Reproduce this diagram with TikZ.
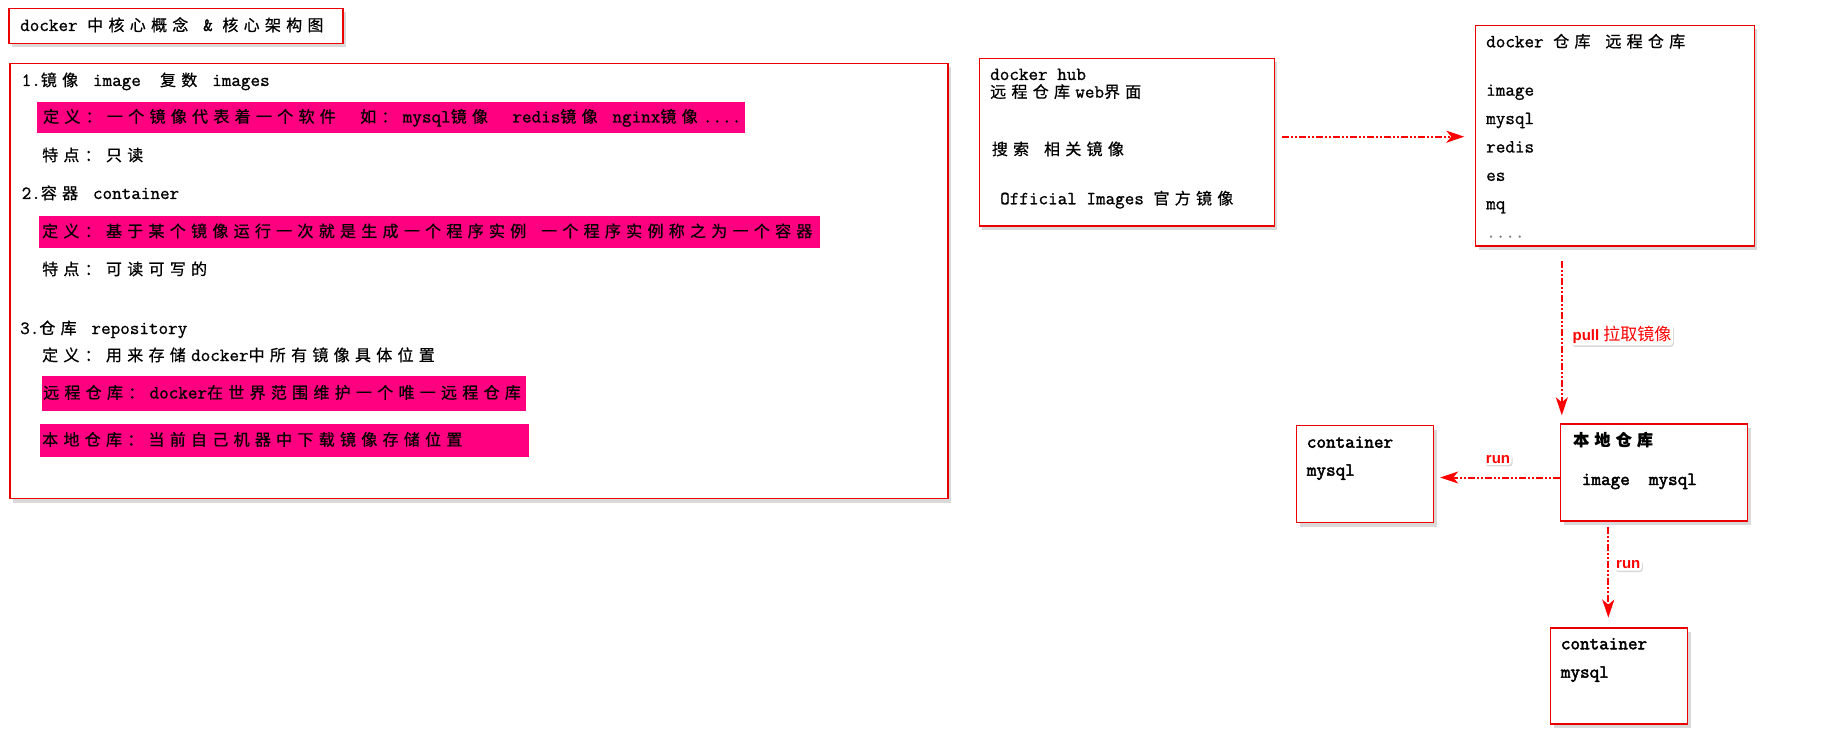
\documentclass[tikz,border=0pt]{standalone}
\usepackage{fontspec}
\setmainfont{Latin Modern Mono}[FakeBold = 1, BoldFont = Latin Modern Mono, BoldFeatures = {FakeBold = 2.5}]
\newfontfamily\cjkfont[Scale = 0.86, LetterSpace = 33, FakeBold = 0.6]{Noto Sans CJK SC}
\newfontfamily\cjktight{Noto Sans CJK SC}
\newfontfamily\tagfont{Liberation Sans}
\usetikzlibrary{arrows.meta, shadows, positioning}
\newcommand{\zh}[1]{{\cjkfont #1\kern 5.3pt}}
\definecolor{hotpink}{RGB}{255,0,128}
\definecolor{boxred}{RGB}{235,0,0}

\tikzset{
  box/.style = {draw = boxred, line width = 1.4pt, fill = white, inner sep = 0pt,
    drop shadow = {shadow xshift = 3pt, shadow yshift = -4pt, opacity = 0.3}},
  txt/.style = {anchor = west, inner sep = 0pt, text height = 13pt, text depth = 3pt},
  txtb/.style = {txt, font = \fontsize{18.6}{22}\selectfont\bfseries},
  hl/.style = {fill = hotpink, anchor = west, inner sep = 0pt},
  flow/.style = {draw = red, line width = 2pt,
    dash pattern = on 7pt off 2pt on 2pt off 2pt on 2pt off 2pt,
    -{Stealth[length = 18pt, width = 12pt, inset = 5pt]}},
  tag/.style = {fill = white, text = red, rounded corners = 3pt, inner sep = 1.5pt,
    font = \tagfont\bfseries\fontsize{15}{16}\selectfont,
    drop shadow = {shadow xshift = 1pt, shadow yshift = -1.5pt, opacity = 0.3}}
}

\begin{document}
\begin{tikzpicture}[x = 1pt, y = -1pt, font = \fontsize{18.6}{22}\selectfont]
	 \useasboundingbox (0, 0) rectangle (1842, 746);

	 % title
	 \node[box, minimum width = 334pt, minimum height = 35pt] (title) at (176, 26) {};
	 \node[txt] (titletxt) at (20, 26) {docker \zh{中核心概念} \& \zh{核心架构图}};

	 % concepts
	 \node[box, minimum width = 938pt, minimum height = 435pt] (concepts) at (479, 281) {};
	 \node[hl, minimum width = 708pt, minimum height = 31pt] (imgbar) at (37, 117.5) {};
	 \node[hl, minimum width = 781pt, minimum height = 32pt] (ctrbar) at (39, 232) {};
	 \node[hl, minimum width = 484pt, minimum height = 35pt] (remotebar) at (42, 393.5) {};
	 \node[hl, minimum width = 489pt, minimum height = 33pt] (localbar) at (40, 440.5) {};

	 \node[txt] (img) at (21.5, 81) {1.\zh{镜像} image\ \ \zh{复数} images};
	 \node[txt] (imgdef) at (43, 117.5)
	 {\zh{定义：一个镜像代表着一个软件}\ \ \zh{如：}mysql\zh{镜像}\ \ redis\zh{镜像} nginx\zh{镜像}....};
	 \node[txt] (imgfeat) at (42, 156) {\zh{特点：只读}};
	 \node[txt] (ctr) at (21.5, 194) {2.\zh{容器} container};
	 \node[txt] (ctrdef) at (42, 232)
	 {\zh{定义：基于某个镜像运行一次就是生成一个程序实例} \zh{一个程序实例称之为一个容器}};
	 \node[txt] (ctrfeat) at (42, 270) {\zh{特点：可读可写的}};
	 \node[txt] (repo) at (20, 329) {3.\zh{仓库} repository};
	 \node[txt] (repodef) at (42, 356) {\zh{定义：用来存储}docker\zh{中所有镜像具体位置}};
	 \node[txt] (remote) at (43, 393.5) {\zh{远程仓库：}docker\zh{在世界范围维护一个唯一远程仓库}};
	 \node[txt] (local) at (42, 440.5) {\zh{本地仓库：当前自己机器中下载镜像存储位置}};

	 % docker hub
	 \node[box, minimum width = 295pt, minimum height = 167.7pt] (hub) at (1126.8, 142.2) {};
	 \node[txt] (hubname) at (990, 75) {docker hub};
	 \node[txt] (hubweb) at (990, 92.7) {\zh{远程仓库}web\zh{界面}};
	 \node[txt] (hubsearch) at (991.7, 150) {\zh{搜索} \zh{相关镜像}};
	 \node[txt] (hubofficial) at (1000, 199.3) {Official Images \zh{官方镜像}};

	 % remote registry
	 \node[box, minimum width = 278.6pt, minimum height = 220.7pt] (registry) at (1615, 135.7) {};
	 \node[txt] (regtitle) at (1486, 42.3) {docker \zh{仓库} \zh{远程仓库}};
	 \foreach \name [count = \i] in {image, mysql, redis, es, mq}
	 \node[txt] (reg\i) at (1486, 62.3 + 28.4 * \i) {\name};
	 \node[txt, text = gray] (regmore) at (1486, 232.7) {....};

	 % local registry and containers
	 \node[box, minimum width = 187pt, minimum height = 97pt] (localrepo) at (1654, 472.5) {};
	 \node[txtb] (localname) at (1573, 440.7) {\zh{本地仓库}};
	 \node[txtb] (localimg) at (1581.7, 480) {image\ \ mysql};

	 \node[box, minimum width = 137pt, minimum height = 97pt] (ctrleft) at (1365, 474) {};
	 \node[txtb] (ctrleftname) at (1306.7, 442.7) {container};
	 \node[txtb] (ctrleftimg) at (1306.7, 470.7) {mysql};

	 \node[box, minimum width = 137pt, minimum height = 96pt] (ctrbottom) at (1619, 676) {};
	 \node[txtb] (ctrbottomname) at (1560.7, 644.3) {container};
	 \node[txtb] (ctrbottomimg) at (1560.7, 672.7) {mysql};

	 % connectors
	 \draw[flow, shorten <= 7.4pt, shorten >= 10.7pt] ([yshift = 5.5pt]hub.east) -- ([yshift = 5.5pt]hub.east -| registry.west);
	 \draw[flow, shorten <= 14pt, shorten >= 8pt] ([xshift = 2pt]localrepo.north west |- registry.south) -- ([xshift = 2pt]localrepo.north west);
	 \node[tag] (pulltag) at (1622, 335) {pull {\cjktight\mdseries\fontsize{17}{18}\selectfont 拉取镜像}};
	 \draw[flow, shorten >= 6pt] ([yshift = -5pt]localrepo.west) -- ([yshift = -5pt]localrepo.west -| ctrleft.east);
	 \node[tag] (runleft) at (1498, 459.3) {run};
	 \draw[flow, shorten <= 5pt, shorten >= 9.7pt] ([xshift = -45.7pt]localrepo.south) -- ([xshift = -45.7pt]localrepo.south |- ctrbottom.north);
	 \node[tag] (rundown) at (1628.3, 565) {run};
\end{tikzpicture}
\end{document}
